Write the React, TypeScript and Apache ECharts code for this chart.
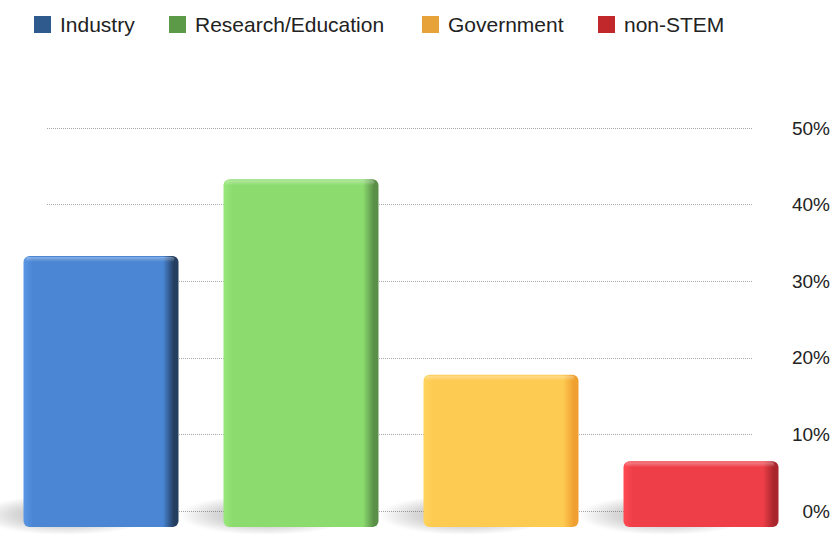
import React, { useEffect, useRef } from "react";
import * as echarts from "echarts";

const categories = ["Industry", "Research/Education", "Government", "non-STEM"];
const values = [33.3, 43.3, 17.8, 6.5];
const legendColors = ["#2e5a8e", "#5c9a48", "#e8a23a", "#c0282b"];
const barLight = ["#5a96e2", "#9ae87c", "#ffd45e", "#ff4a52"];
const barMain = ["#4a86d4", "#8bdb6f", "#fecb52", "#ee3f48"];
const barDark = ["#243e60", "#5a8f48", "#f0a030", "#a8262c"];
const legendLefts = [29, 164, 417, 593];

const FONT = "'Liberation Sans', Arial, Helvetica, sans-serif";

export default function App() {
  const ref = useRef<HTMLDivElement>(null);

  useEffect(() => {
    if (!ref.current) return;
    const chart = echarts.init(ref.current, undefined, { renderer: "svg" });

    const series = categories.map((name, i) => ({
      name,
      type: "custom",
      xAxisIndex: 0,
      yAxisIndex: 0,
      clip: false,
      itemStyle: { color: legendColors[i] },
      data: [[i, values[i]]],
      renderItem: (params: any, api: any) => {
        const idx = api.value(0);
        const val = api.value(1);
        const top = api.coord([idx, val]);
        const base = api.coord([idx, 0]);
        const w = api.size([1, 0])[0] * 0.775;
        const x = top[0] - w / 2;
        const y = top[1];
        const depth = 16;
        const h = base[1] + depth - y;
        return {
          type: "group",
          children: [
            {
              type: "rect",
              shape: { x: x - 45, y: base[1] - 16, width: w + 20, height: 40 },
              style: {
                fill: new echarts.graphic.RadialGradient(0.5, 0.5, 0.5, [
                  { offset: 0, color: "rgba(0,0,0,0.32)" },
                  { offset: 0.6, color: "rgba(0,0,0,0.15)" },
                  { offset: 1, color: "rgba(0,0,0,0)" },
                ]),
              },
            },
            {
              type: "rect",
              shape: { x, y, width: w, height: h, r: 6 },
              style: {
                fill: new echarts.graphic.LinearGradient(0, 0, 1, 0, [
                  { offset: 0, color: barLight[i] },
                  { offset: 0.06, color: barMain[i] },
                  { offset: 0.9, color: barMain[i] },
                  { offset: 0.97, color: barDark[i] },
                  { offset: 1, color: barDark[i] },
                ]),
              },
            },
            {
              type: "rect",
              shape: { x: x + 2, y: y + 1, width: w - 6, height: 5, r: 3 },
              style: {
                fill: new echarts.graphic.LinearGradient(0, 0, 0, 1, [
                  { offset: 0, color: "rgba(255,255,255,0.35)" },
                  { offset: 1, color: "rgba(255,255,255,0)" },
                ]),
              },
            },
          ],
        };
      },
    }));

    const legends = categories.map((name, i) => ({
      data: [name],
      left: legendLefts[i],
      top: 9,
      icon: "rect",
      itemWidth: 17,
      itemHeight: 17,
      selectedMode: false,
      textStyle: { fontSize: 21, color: "#222", fontFamily: FONT, padding: [0, 0, 0, 4] },
    }));

    chart.setOption({
      animation: false,
      backgroundColor: "#ffffff",
      legend: legends,
      grid: [
        { left: 1, right: 35, top: 128, bottom: 23 },
        { left: 47, right: 83, top: 128, bottom: 23 },
      ],
      xAxis: [
        { type: "category", gridIndex: 0, data: categories, show: false },
        { type: "value", gridIndex: 1, show: false, min: 0, max: 1 },
      ],
      yAxis: [
        { type: "value", gridIndex: 0, min: 0, max: 50, interval: 10, show: false },
        {
          type: "value",
          gridIndex: 1,
          position: "right",
          min: 0,
          max: 50,
          interval: 10,
          axisLine: { show: false },
          axisTick: { show: false },
          axisLabel: {
            formatter: (v: number) => `${v}%`,
            align: "right",
            margin: 77,
            fontSize: 19,
            color: "#222",
            fontFamily: FONT,
          },
          splitLine: { show: true, lineStyle: { type: "dotted", color: "#a8a8a8", width: 1 } },
        },
      ],
      series,
    });

    return () => chart.dispose();
  }, []);

  return (
    <div
      ref={ref}
      style={{ position: "fixed", left: 0, top: 0, width: 836, height: 534 }}
    />
  );
}
